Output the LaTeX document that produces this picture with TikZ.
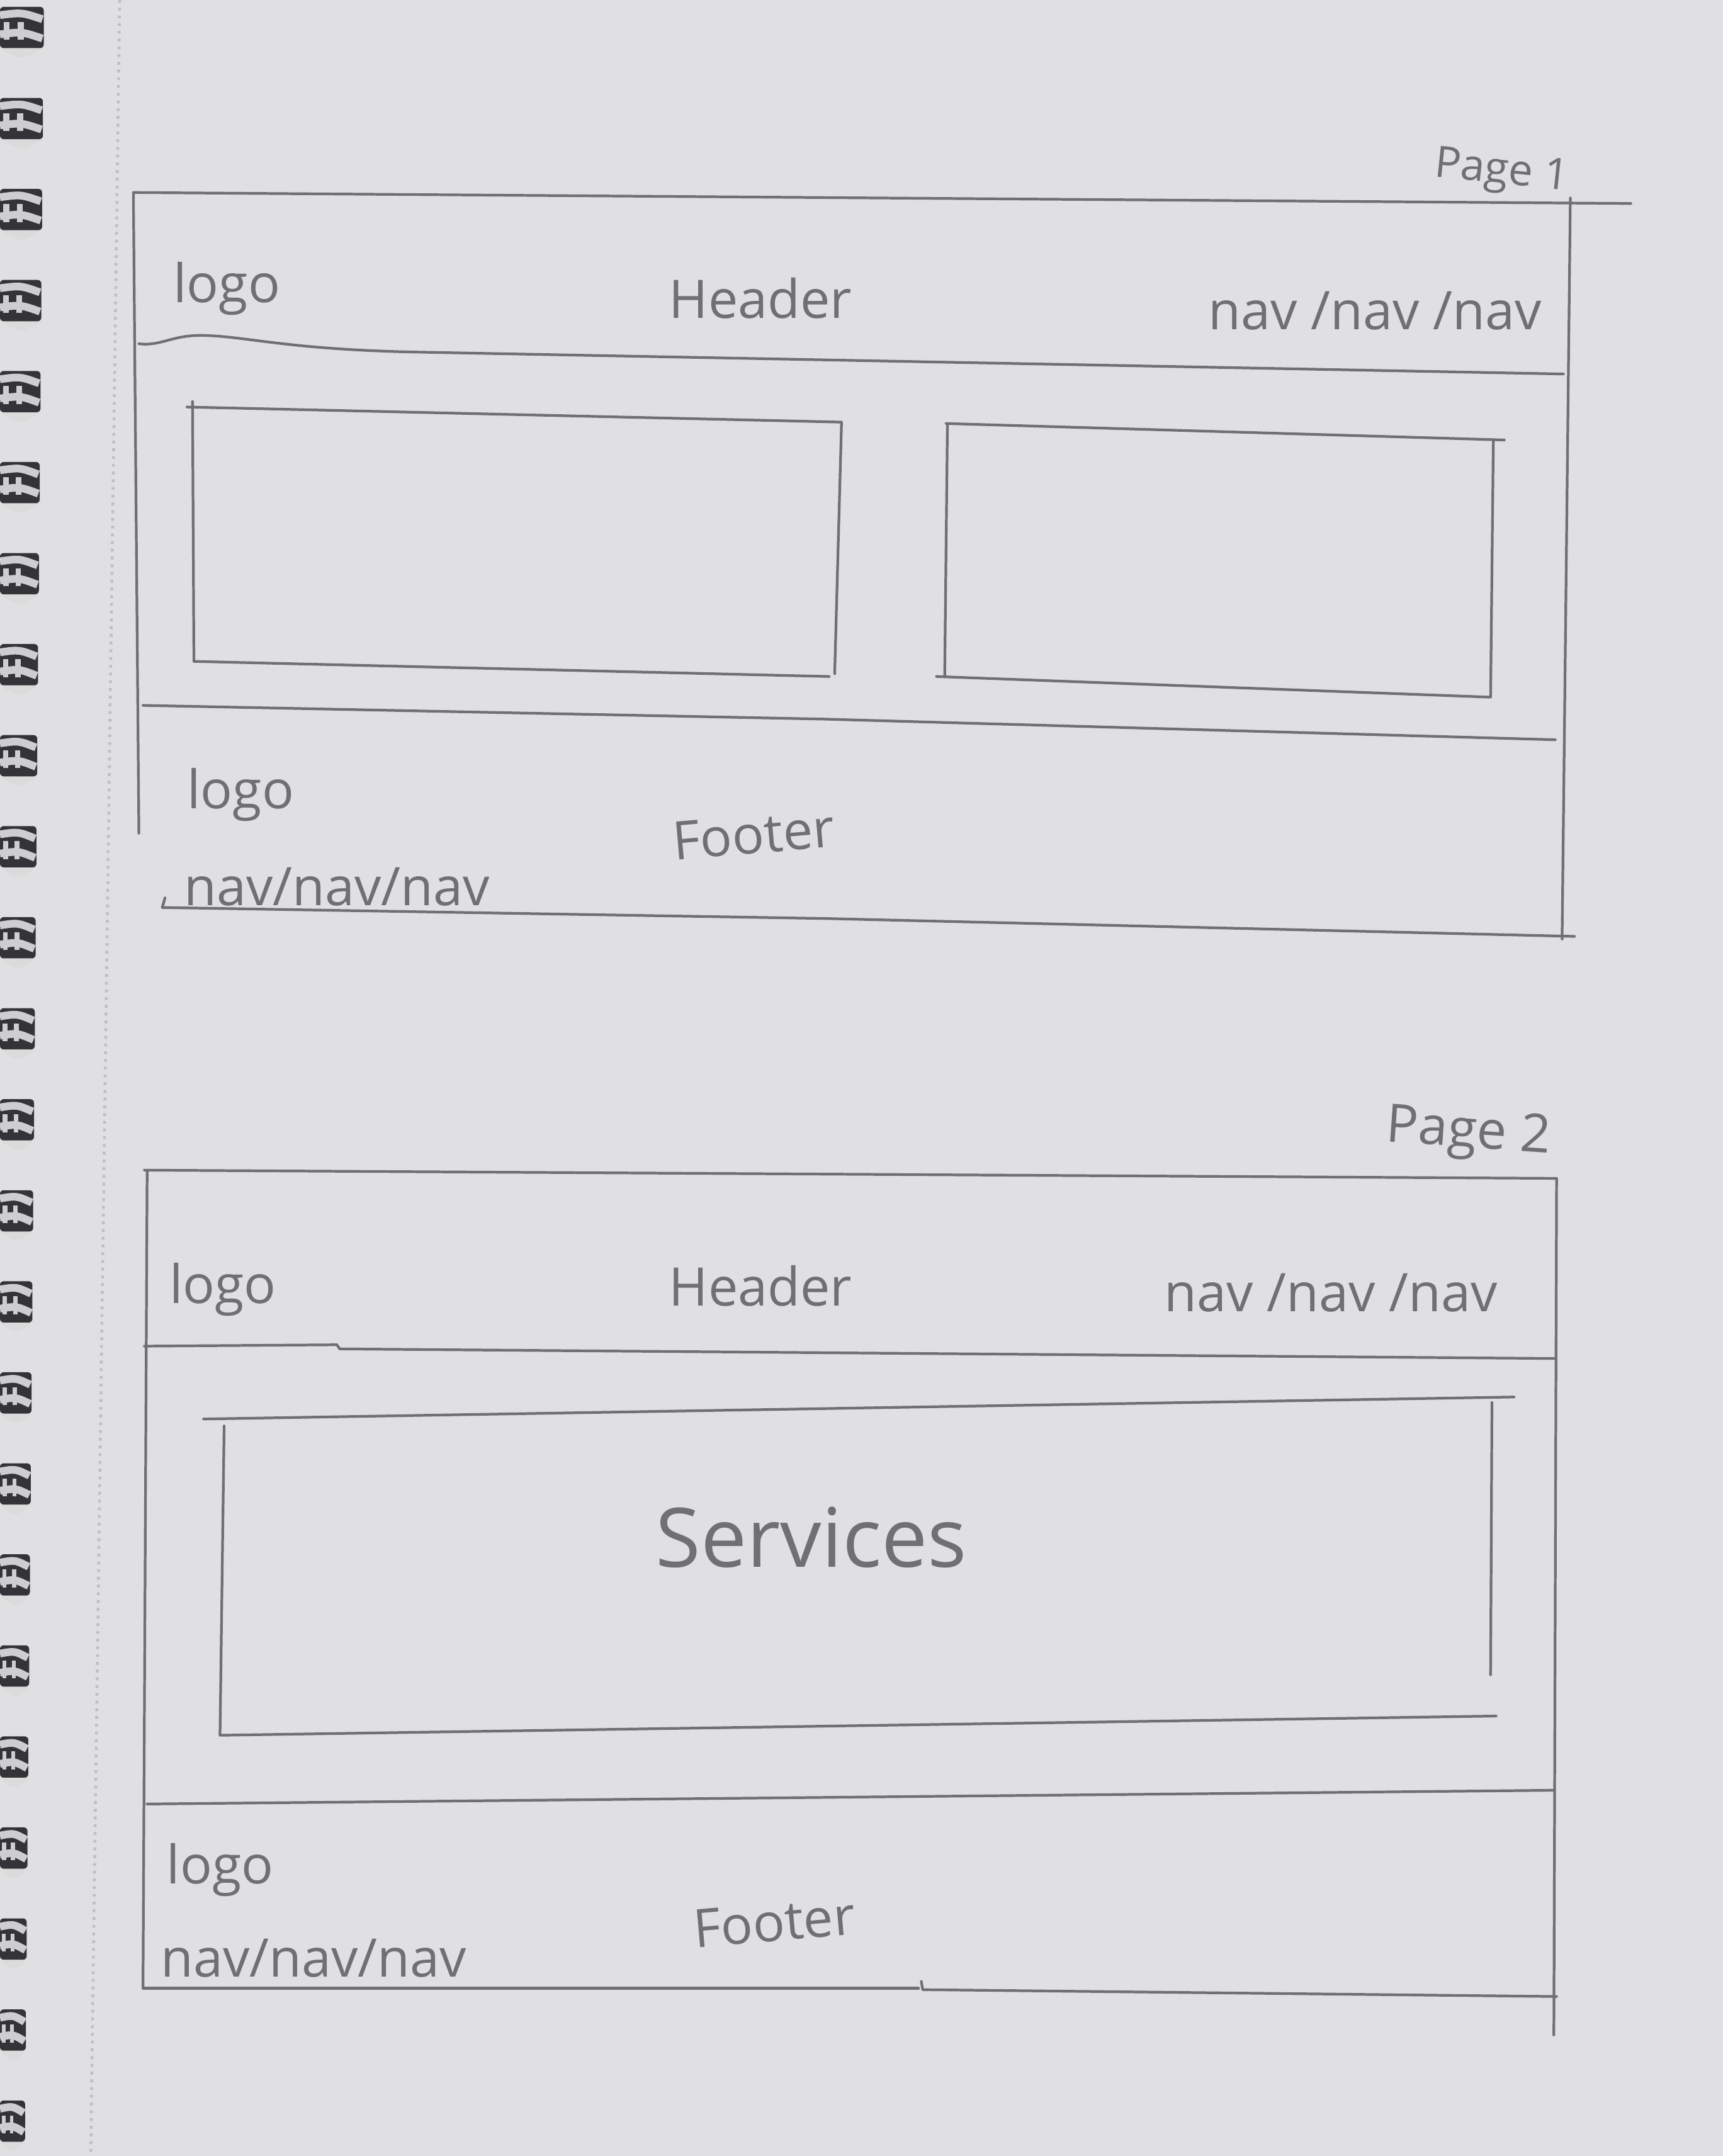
\documentclass[tikz,border=0pt]{standalone}
\usepackage{fontspec}
\setmainfont{Open Sans}
\definecolor{paper}{RGB}{224,224,226}
\definecolor{pencil}{RGB}{112,112,115}
\definecolor{wire}{RGB}{206,206,210}
\definecolor{coil}{RGB}{52,52,56}
\definecolor{perf}{RGB}{192,192,196}
\begin{document}
\begin{tikzpicture}[x=0.02cm,y=-0.02cm,
  sketch/.style={draw=pencil, line width=1.1pt, line cap=round, line join=round},
  hand/.style={text=pencil, inner sep=0pt, font=\fontsize{22}{26}\selectfont},
  bighand/.style={text=pencil, inner sep=0pt, font=\fontsize{34}{40}\selectfont},
  smallhand/.style={text=pencil, inner sep=0pt, font=\fontsize{18}{22}\selectfont}]

% sheet of paper
\useasboundingbox (0,0) rectangle (1253,1568);
\fill[paper] (0,0) rectangle (1253,1568);

% spiral binding along the left edge (rings narrow towards the bottom)
\foreach \i in {0,...,23} {
  \pgfmathsetmacro{\c}{20+66.2*\i}
  \pgfmathsetmacro{\w}{32-\c/1568*14}
  \fill[black!14] (0,\c+15) .. controls (\w*0.5,\c+24) .. (\w,\c+15) -- cycle;
  \fill[coil, rounded corners=1.5pt] (0,\c-15) rectangle (\w,\c+15);
  \foreach \r in {0.08,0.4} {
    \fill[wire] (\w*\r,\c-4) rectangle (\w*\r+\w*0.14,\c+9);
  }
  \draw[wire, line width=3.2pt] (0,\c-9) .. controls (\w*0.5,\c-11) .. (\w-1,\c-6);
  \draw[wire, line width=3.2pt] (0,\c+5) .. controls (\w*0.5,\c+3) .. (\w-1,\c+8);
}

% perforation
\draw[perf, dotted, line width=1.2pt] (87,0) -- (66,1568);

% ---------------- Page 1 ----------------
\node[smallhand, rotate=-6] (p1label) at (1092,126) {Page 1};

% outer frame
\draw[sketch] (97,140) -- (1186,148);
\draw[sketch] (1142,144) -- (1136,683);
\draw[sketch] (97,141) -- (101,606);
\draw[sketch] (101,250) .. controls (118,252) and (125,243) .. (150,244)
  .. controls (180,245) and (210,254) .. (300,256) -- (1137,272);

\node[hand] (p1logo) at (165,210) {logo};
\node[hand] (p1header) at (553,217) {Header};
\node[hand] (p1nav) at (1000,226) {nav /nav /nav};

% two content boxes
\draw[sketch] (136,296) -- (612,307) -- (607,490);
\draw[sketch] (140,292) -- (141,481) -- (603,492);
\draw[sketch] (688,308) -- (1094,320);
\draw[sketch] (689,309) -- (687,492);
\draw[sketch] (681,492) -- (1083,507);
\draw[sketch] (1086,320) -- (1084,507);

% footer band
\draw[sketch] (104,513) -- (600,523) -- (1131,538);
\node[hand] (p1flogo) at (175,578) {logo};
\node[hand] (p1fnav) at (245,645) {nav/nav/nav};
\node[hand, rotate=5] (p1footer) at (548,607) {Footer};
\draw[sketch] (120,653) -- (118,660) -- (600,668) -- (1145,681);

% ---------------- Page 2 ----------------
\node[hand, rotate=-4] (p2label) at (1068,825) {Page 2};

% outer frame
\draw[sketch] (105,851) -- (1132,857) -- (1130,1480);
\draw[sketch] (107,852) -- (104,1446);
\draw[sketch] (105,979) -- (245,978) -- (247,981) -- (1131,988);

\node[hand] (p2logo) at (162,938) {logo};
\node[hand] (p2header) at (553,935) {Header};
\node[hand] (p2nav) at (968,940) {nav /nav /nav};

% services box
\draw[sketch] (148,1032) -- (1101,1016);
\draw[sketch] (163,1037) -- (160,1262) -- (1088,1248);
\draw[sketch] (1085,1020) -- (1084,1218);
\node[bighand] (services) at (590,1118) {Services};

% footer band
\draw[sketch] (107,1312) -- (1130,1302);
\node[hand] (p2flogo) at (160,1360) {logo};
\node[hand] (p2fnav) at (228,1424) {nav/nav/nav};
\node[hand, rotate=5] (p2footer) at (563,1398) {Footer};
\draw[sketch] (104,1446) -- (668,1446);
\draw[sketch] (670,1441) -- (671,1447) -- (1132,1452);

\end{tikzpicture}
\end{document}
